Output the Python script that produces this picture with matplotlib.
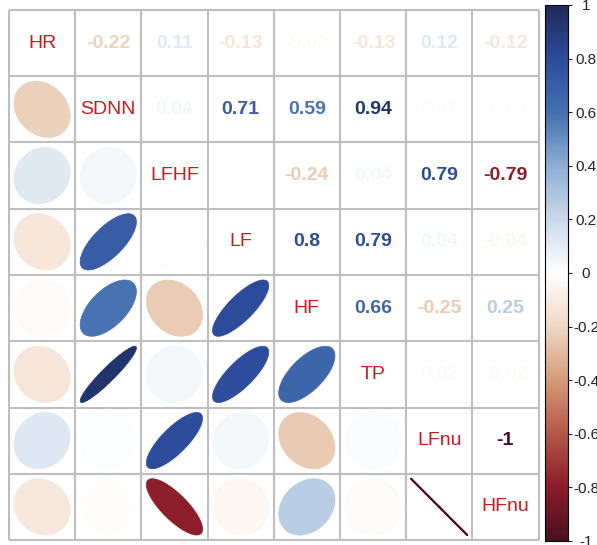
import numpy as np
import matplotlib.pyplot as plt
from matplotlib.patches import Polygon
from matplotlib.colors import Normalize, LinearSegmentedColormap
import matplotlib.cm as cm

plt.rcParams['font.family'] = ['Liberation Sans', 'DejaVu Sans']

labels = ["HR", "SDNN", "LFHF", "LF", "HF", "TP", "LFnu", "HFnu"]
r_HR = [1, -0.22, 0.11, -0.13, -0.03, -0.13, 0.12, -0.12]
r_SDNN = [-0.22, 1, 0.04, 0.71, 0.59, 0.94, 0.01, -0.01]
r_LFHF = [0.11, 0.04, 1, 0, -0.24, 0.04, 0.79, -0.79]
r_LF = [-0.13, 0.71, 0, 1, 0.8, 0.79, 0.04, -0.04]
r_HF = [-0.03, 0.59, -0.24, 0.8, 1, 0.66, -0.25, 0.25]
r_TP = [-0.13, 0.94, 0.04, 0.79, 0.66, 1, 0.02, -0.02]
r_LFnu = [0.12, 0.01, 0.79, 0.04, -0.25, 0.02, 1, -1]
r_HFnu = [-0.12, -0.01, -0.79, -0.04, 0.25, -0.02, -1, 1]
corr = np.array([r_HR, r_SDNN, r_LFHF, r_LF, r_HF, r_TP, r_LFnu, r_HFnu])
n = len(labels)

# palette as it appears in the picture (muted RdBu)
pal = ["#4A1020", "#8B1C2A", "#B5584A", "#D49B78", "#EFD8C5", "#FFFFFF",
       "#CAD9EA", "#8DAFD5", "#4570B0", "#2D4C9C", "#1E2B5A"]
cmap = LinearSegmentedColormap.from_list('corr', pal, N=256)
norm = Normalize(-1, 1)

fig = plt.figure(figsize=(5.97, 5.45), dpi=100)
ax = fig.add_axes([9 / 597, 5 / 545, 529.5 / 597, 530 / 545])
ax.set_xlim(0.5, n + 0.5)
ax.set_ylim(0.5, n + 0.5)
ax.axis('off')


def ell_pts(rho, length=99):
    # corrplot-style ellipse outline for a correlation
    k = np.linspace(0, 2 * np.pi, length)
    a = np.arccos(np.clip(rho, -1, 1))
    return np.column_stack([np.cos(k + a / 2) / 2, np.cos(k - a / 2) / 2]) * 0.85


def fmt(v):
    s = '%g' % round(v, 2)
    return '0' if s == '-0' else s


for i in range(n):
    y = n - i
    for j in range(n):
        x = j + 1
        v = corr[i, j]
        col = cmap(norm(v))
        if i == j:
            ax.text(x, y, labels[i], ha='center', va='center',
                    fontsize=14, color='#CC1A1F')
        elif j > i:
            ax.text(x, y, fmt(v), ha='center', va='center',
                    fontsize=14, fontweight='bold', color=col)
        else:
            pts = ell_pts(v) + [x, y]
            if abs(v) > 0.999:
                ax.plot(pts[:, 0], pts[:, 1], color=col, lw=1.3)
            else:
                ax.add_patch(Polygon(pts, closed=True, facecolor=col,
                                     edgecolor=col, lw=0.5))

# grid
for g in np.arange(0.5, n + 1, 1):
    ax.plot([0.5, n + 0.5], [g, g], color='#BEBEBE', lw=1.5,
            solid_capstyle='butt', clip_on=False)
    ax.plot([g, g], [0.5, n + 0.5], color='#BEBEBE', lw=1.5,
            solid_capstyle='butt', clip_on=False)

# colour legend
cax = fig.add_axes([545 / 597, 4 / 545, 23 / 597, 536 / 545])
sm = cm.ScalarMappable(norm=norm, cmap=cmap)
cb = fig.colorbar(sm, cax=cax)
ticks = np.round(np.arange(-1, 1.01, 0.2), 1)
cb.set_ticks(ticks)
cb.set_ticklabels([fmt(t) for t in ticks])
cb.outline.set_linewidth(0.8)
cax.tick_params(length=3, width=0.8, labelsize=11, pad=10, colors='#222222')
for t in cax.get_yticklabels():
    t.set_horizontalalignment('center')

fig.savefig('out.png', dpi=100)
